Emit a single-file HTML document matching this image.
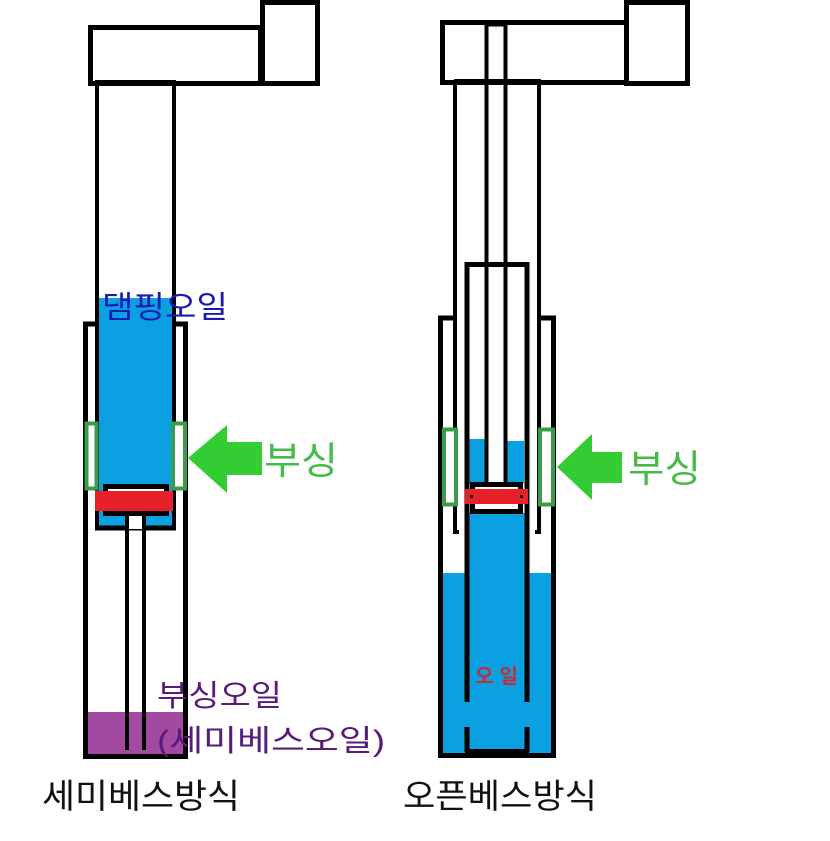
<!DOCTYPE html>
<html><head><meta charset="utf-8"><style>
html,body{margin:0;padding:0;background:#fff;width:830px;height:841px;overflow:hidden}
svg{display:block}
text{font-family:"Liberation Sans","Noto Sans CJK KR","NanumGothic",sans-serif}
</style></head><body>
<svg width="830" height="841" viewBox="0 0 830 841" xmlns="http://www.w3.org/2000/svg">
<!-- LEFT -->
<rect x="90.5" y="27.5" width="170" height="56" fill="none" stroke="#000" stroke-width="5"/>
<rect x="262.5" y="2.5" width="55" height="81" fill="none" stroke="#000" stroke-width="5"/>
<line x1="95" y1="82" x2="176" y2="82" stroke="#000" stroke-width="4"/>
<rect x="98" y="298" width="75" height="230" fill="#0aa0e2"/>
<line x1="97" y1="80" x2="97" y2="530" stroke="#000" stroke-width="4"/>
<line x1="174" y1="80" x2="174" y2="530" stroke="#000" stroke-width="4"/>
<line x1="95" y1="528" x2="176" y2="528" stroke="#000" stroke-width="5"/>
<polyline points="97,324 85.5,324 85.5,756.5 185.5,756.5 185.5,324 174,324" fill="none" stroke="#000" stroke-width="5"/>
<rect x="88" y="712" width="95" height="43" fill="#a24aa2"/>
<line x1="85.5" y1="712" x2="85.5" y2="758" stroke="#000" stroke-width="5"/>
<line x1="185.5" y1="712" x2="185.5" y2="758" stroke="#000" stroke-width="5"/>
<line x1="83" y1="756.5" x2="188" y2="756.5" stroke="#000" stroke-width="5"/>
<rect x="128" y="515" width="16" height="14" fill="#fff"/>
<line x1="127" y1="515" x2="127" y2="750" stroke="#000" stroke-width="4"/>
<line x1="144" y1="515" x2="144" y2="750" stroke="#000" stroke-width="4"/>
<rect x="105.5" y="486.5" width="61" height="27" fill="#fff" stroke="#000" stroke-width="5"/>
<rect x="95" y="491" width="78" height="20" fill="#e8202a"/>
<rect x="86.5" y="423.5" width="10" height="65" fill="#fff" stroke="#3a9d4a" stroke-width="4"/>
<rect x="173" y="423.5" width="12" height="65" fill="#fff" stroke="#3a9d4a" stroke-width="4"/>
<polygon points="188,458 227,425 227,442 262,442 262,475 227,475 227,493" fill="#33cc33"/>
<text x="264" y="474" font-size="38" fill="#44bb44" textLength="74" lengthAdjust="spacingAndGlyphs">부싱</text>
<text x="102" y="318" font-size="31" fill="#1a1ab4" textLength="126" lengthAdjust="spacingAndGlyphs">댐핑오일</text>
<text x="157" y="706" font-size="30" fill="#5a1a7a" textLength="125" lengthAdjust="spacingAndGlyphs">부싱오일</text>
<text x="157" y="751" font-size="30" fill="#5a1a7a" textLength="228" lengthAdjust="spacingAndGlyphs">(세미베스오일)</text>
<text x="42" y="808" font-size="34" fill="#111" textLength="198" lengthAdjust="spacingAndGlyphs">세미베스방식</text>

<!-- RIGHT -->
<rect x="442.5" y="22.5" width="184" height="60" fill="none" stroke="#000" stroke-width="5"/>
<rect x="626.5" y="2.5" width="61" height="81" fill="none" stroke="#000" stroke-width="5"/>
<line x1="486" y1="24" x2="506" y2="24" stroke="#000" stroke-width="5"/>
<line x1="454" y1="81" x2="541" y2="81" stroke="#000" stroke-width="4"/>
<rect x="442" y="573" width="112" height="181" fill="#0aa0e2"/>
<rect x="468" y="513" width="57" height="240" fill="#0aa0e2"/>
<rect x="469" y="439" width="16" height="44" fill="#0aa0e2"/>
<rect x="507" y="441" width="17" height="42" fill="#0aa0e2"/>
<polyline points="455,318 440.5,318 440.5,755.5 553.5,755.5 553.5,318 539,318" fill="none" stroke="#000" stroke-width="5"/>
<polyline points="455,81 455,532 459,532" fill="none" stroke="#000" stroke-width="4"/>
<polyline points="539,81 539,532 535,532" fill="none" stroke="#000" stroke-width="4"/>
<polyline points="467,702 467,264.5 527,264.5 527,702" fill="none" stroke="#000" stroke-width="5"/>
<line x1="467" y1="727" x2="467" y2="752" stroke="#000" stroke-width="5"/>
<line x1="527" y1="727" x2="527" y2="752" stroke="#000" stroke-width="5"/>
<line x1="465" y1="751" x2="529" y2="751" stroke="#000" stroke-width="4"/>
<line x1="486.5" y1="22" x2="486.5" y2="484" stroke="#000" stroke-width="4"/>
<line x1="505.5" y1="22" x2="505.5" y2="484" stroke="#000" stroke-width="4"/>
<rect x="472.5" y="484.5" width="48" height="27" fill="#fff" stroke="#000" stroke-width="5"/>
<rect x="465" y="489" width="63" height="15" fill="#e8202a"/>
<rect x="470" y="495" width="3" height="3" fill="#000"/>
<rect x="520" y="495" width="3" height="3" fill="#000"/>
<rect x="444" y="429.5" width="12" height="75" fill="#fff" stroke="#3a9d4a" stroke-width="4"/>
<rect x="540" y="429.5" width="13" height="75" fill="#fff" stroke="#3a9d4a" stroke-width="4"/>
<polygon points="557,467 592,434 592,452 622,452 622,483 592,483 592,500" fill="#33cc33"/>
<text x="628" y="482" font-size="38" fill="#44bb44" textLength="73" lengthAdjust="spacingAndGlyphs">부싱</text>
<text x="475" y="683" font-size="20" font-weight="bold" fill="#c0303a" textLength="43" lengthAdjust="spacingAndGlyphs">오 일</text>
<text x="403" y="808" font-size="34" fill="#111" textLength="194" lengthAdjust="spacingAndGlyphs">오픈베스방식</text>
</svg>
</body></html>
